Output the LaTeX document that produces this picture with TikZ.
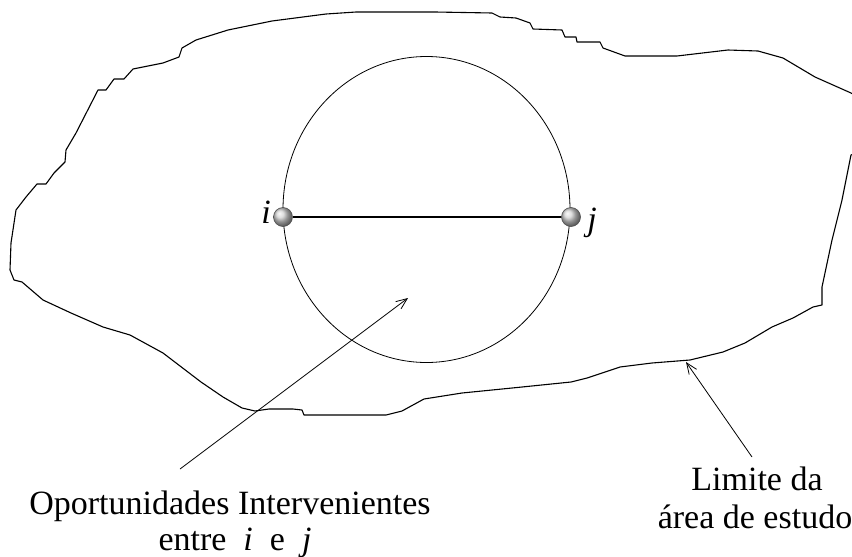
\documentclass[tikz,border=0pt]{standalone}
\usepackage{fontspec}
\setmainfont{Liberation Serif}
\usetikzlibrary{arrows.meta}

\begin{document}
\begin{tikzpicture}[
    x=1pt, y=-1pt,
    every node/.style={font=\fontsize{34}{37}\selectfont, text=black, inner sep=0pt},
    border/.style={line width=1.1pt, line join=round},
    pointer/.style={line width=0.8pt, -{Straight Barb[length=11pt, width=9pt]}},
    zone/.style={draw, line width=0.8pt},
    stop/.style={circle, draw=black!70, line width=0.6pt, minimum size=19pt, shading=ball, ball color=gray!35}
]
    \useasboundingbox (0,0) rectangle (852,557);
    \clip (0,0) rectangle (852,557);

    % ==========================
    % Study area boundary
    % ==========================
    \draw[border] plot coordinates {
        (26,197) (37,184) (46,184) (54,173) (65,162) (66,150) (76,133)
        (98,90) (106,90) (114,79) (124,79) (133,69) (163,63) (179,57)
        (182,48) (196,40) (228,30) (272,21) (326,14) (356,12) (435,12)
        (492,13) (500,17) (516,18) (530,23) (533,29) (562,30) (565,37)
        (576,37) (577,42) (600,42) (603,48) (625,56) (677,56) (728,50)
        (758,51) (783,58) (815,77) (851,93) (864,100) (864,150) (851,155)
        (842,200) (832,240) (822,287) (822,305) (813,307) (793,318)
        (772,327) (745,343) (723,352) (690,360) (652,363) (620,367)
        (587,378) (571,382) (522,387) (462,393) (424,399) (402,411)
        (386,415) (304,415) (302,410) (293,409) (269,409) (255,411)
        (242,408) (223,397) (201,382) (163,353) (130,335) (103,327)
        (71,313) (43,300) (22,282) (14,280) (10,270) (11,243) (16,210)
    } -- cycle;

    % ==========================
    % Circle through i and j
    % ==========================
    \draw[zone] (426.5,209.5) ellipse (143.5 and 153);

    \node[stop] (pi) at (283,217) {};
    \node[stop] (pj) at (571,217) {};
    \draw[line width=1.1pt] (pi) -- (pj);

    \node[anchor=base] (li) at (266,223) {\textit{i}};
    \node[anchor=base] (lj) at (592,230) {\textit{j}};

    % ==========================
    % Labels and pointers
    % ==========================
    \node[anchor=base] (opp) at (230,514) {Oportunidades Intervenientes};
    \node[anchor=base] (oppB) at (235,550) {entre\enspace\textit{i}\enspace e\enspace\textit{j}};
    \coordinate (oppTail) at (180,469);
    \coordinate (oppTip) at (408,298);
    \draw[pointer] (oppTail) -- (oppTip);

    \node[anchor=base] (lim) at (757,490) {Limite da};
    \node[anchor=base] (limB) at (755,528) {área de estudo};
    \coordinate (limTail) at (752,457);
    \coordinate (limTip) at (686,362);
    \draw[pointer] (limTail) -- (limTip);

\end{tikzpicture}
\end{document}
